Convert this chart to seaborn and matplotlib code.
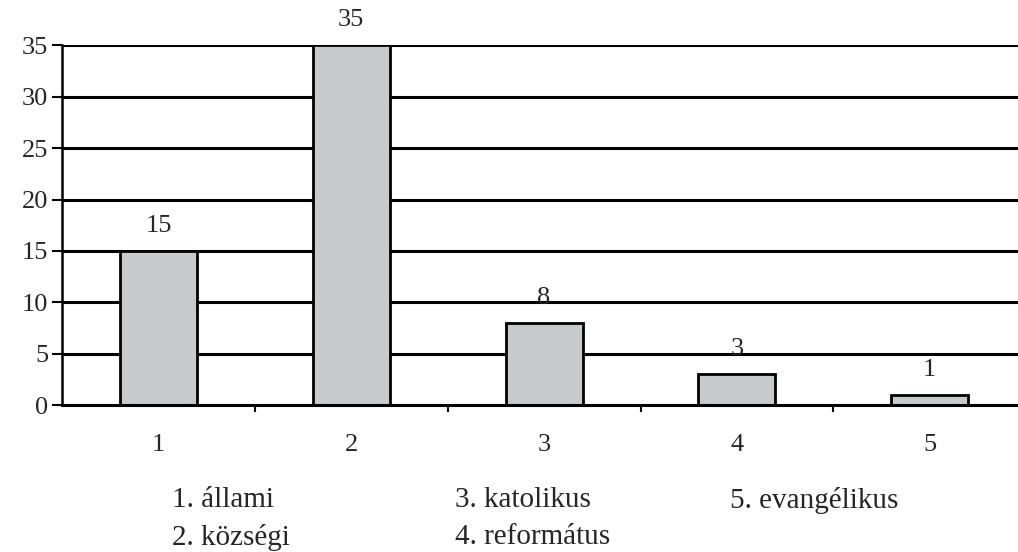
import numpy as np
import pandas as pd
import matplotlib
matplotlib.use('Agg')
import matplotlib.pyplot as plt
import seaborn as sns

# data
categories = ['1', '2', '3', '4', '5']
counts = [15, 35, 8, 3, 1]
legend_labels = ['1. állami', '2. községi', '3. katolikus', '4. református', '5. evangélikus']

df = pd.DataFrame({'cat': categories, 'n': counts})

sns.set_style('white')
plt.rcParams['font.family'] = ['Liberation Serif', 'DejaVu Serif']

fig = plt.figure(figsize=(10.18, 5.52), dpi=100)
ax = fig.add_axes([0.061, 0.266, 0.947, 0.652])

# horizontal grid lines
for y in range(5, 40, 5):
    ax.axhline(y, color='black', lw=2.2, zorder=1)

sns.barplot(data=df, x='cat', y='n', color='#c6caca', saturation=1,
            width=0.4, edgecolor='black', linewidth=2, ax=ax, zorder=3)

for i, v in enumerate(counts):
    ax.annotate(str(v), (i, v), xytext=(0, 10), textcoords='offset points',
                ha='center', va='bottom', fontsize=19)

ax.set_ylim(0, 35)
ax.set_xlim(-0.5, 4.5)
ax.set_yticks(range(0, 40, 5))
ax.set_xlabel('')
ax.set_ylabel('')

for s in ['top', 'right']:
    ax.spines[s].set_visible(False)
ax.spines['left'].set_color('black')
ax.spines['left'].set_linewidth(1.8)
ax.spines['bottom'].set_color('black')
ax.spines['bottom'].set_linewidth(2.2)
ax.spines['bottom'].set_zorder(4)

ax.tick_params(axis='y', which='major', direction='out', length=7, width=1.5,
               color='black', labelsize=19, left=True, pad=3)
ax.tick_params(axis='x', which='major', length=0, labelsize=19, pad=21)
ax.set_xticks(np.arange(0.5, 4.5, 1), minor=True)
ax.tick_params(axis='x', which='minor', direction='out', length=5, width=1.5,
               color='black', bottom=True)

# legend text below the chart
positions = [(0.169, 0.094), (0.169, 0.027), (0.447, 0.094), (0.447, 0.027), (0.717, 0.094)]
for lab, (px, py) in zip(legend_labels, positions):
    fig.text(px, py, lab, fontsize=21, ha='left', va='center')

fig.savefig('out.png', dpi=100)
